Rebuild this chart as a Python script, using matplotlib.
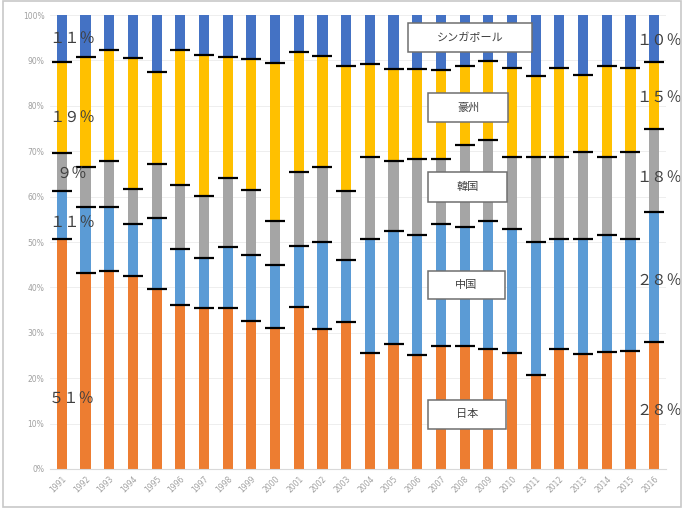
import matplotlib
matplotlib.use("Agg")
import matplotlib.pyplot as plt
import numpy as np
from matplotlib.patches import Rectangle

plt.rcParams['font.family'] = ['Noto Sans CJK JP', 'DejaVu Sans']

years = [str(y) for y in range(1991, 2017)]
japan = [50.6, 43.1, 43.7, 42.6, 39.6, 36.1, 35.5, 35.5, 32.7, 31.1, 35.6, 30.8, 32.4,
         25.5, 27.5, 25.1, 27.2, 27.2, 26.5, 25.6, 20.6, 26.5, 25.3, 25.8, 26.1, 28.0]
china = [10.7, 14.7, 14.1, 11.3, 15.6, 12.4, 10.9, 13.5, 14.5, 13.9, 13.6, 19.2, 13.7,
         25.2, 25.0, 26.5, 26.7, 26.2, 28.2, 27.3, 29.3, 24.2, 25.3, 25.7, 24.5, 28.6]
korea = [8.4, 8.7, 10.1, 7.7, 12.0, 14.1, 13.7, 15.2, 14.3, 9.7, 16.3, 16.5, 15.2,
         18.1, 15.4, 16.7, 14.4, 18.0, 17.8, 15.8, 18.9, 18.0, 19.3, 17.3, 19.3, 18.3]
australia = [20.0, 24.3, 24.5, 28.9, 20.3, 29.6, 31.0, 26.5, 28.8, 34.7, 26.3, 24.5, 27.5,
             20.3, 20.3, 19.9, 19.5, 17.4, 17.3, 19.6, 17.8, 19.6, 16.9, 20.0, 18.5, 14.8]
singapore = [round(100 - j - c - k - a, 1) for j, c, k, a in zip(japan, china, korea, australia)]

series_names = ['日本', '中国', '韓国', '豪州', 'シンガポール']
series = [japan, china, korea, australia, singapore]
colors = ['#ED7D31', '#5B9BD5', '#A5A5A5', '#FFC000', '#4472C4']

left_labels = ['５１％', '１１％', '９％', '１９％', '１１％']
right_labels = ['２８％', '２８％', '１８％', '１５％', '１０％']

W, H = 684, 508
fig = plt.figure(figsize=(W / 100, H / 100), dpi=100)
ax = fig.add_axes([50 / W, 39 / H, 616 / W, 454 / H])

x = np.arange(len(years))
bottom = np.zeros(len(years))
for vals, col in zip(series, colors):
    v = np.array(vals)
    ax.bar(x, v, bottom=bottom, width=0.43, color=col, zorder=2)
    bottom = bottom + v

# boundary dashes
cum = np.zeros(len(years))
for vals in series[:-1]:
    cum = cum + np.array(vals)
    ax.plot(x, cum, linestyle='none', marker='_', markersize=14.5,
            markeredgewidth=1.6, color='black', zorder=4)

ax.set_xlim(-0.5, len(years) - 0.5)
ax.set_ylim(0, 100)
ax.set_yticks(np.arange(0, 101, 10))
ax.set_yticklabels([f'{t}%' for t in range(0, 101, 10)], fontsize=5.5, color='#a0a0a0',
                   family=['DejaVu Sans'])
ax.set_xticks(x)
ax.set_xticklabels(years, rotation=45, ha='right', fontsize=5.5, color='#a0a0a0',
                   family=['DejaVu Sans'], rotation_mode='anchor')
ax.tick_params(length=0, pad=4)
ax.yaxis.grid(True, color='#ebebeb', linewidth=0.6, zorder=0)
ax.set_axisbelow(True)
for s in ['top', 'right', 'left']:
    ax.spines[s].set_visible(False)
ax.spines['bottom'].set_color('#d9d9d9')

# percentage annotations (first and last year)
left_y = [15.4, 54.2, 64.8, 77.3, 94.9]
right_y = [13.0, 41.6, 64.3, 81.7, 94.1]
for lab, yy in zip(left_labels, left_y):
    ax.text(0.43, yy, lab, ha='center', va='center', fontsize=11, color='#404040', zorder=5)
for lab, yy in zip(right_labels, right_y):
    ax.text(24.25, yy, lab, ha='left', va='center', fontsize=11, color='#404040',
            zorder=5, clip_on=False)

# name boxes (pixel positions)
boxes = [('シンガポール', 408, 23, 124, 29), ('豪州', 428, 93, 80, 29), ('韓国', 428, 172, 79, 30),
         ('中国', 428, 271, 77, 28), ('日本', 428, 400, 78, 29)]
for name, bx, by, bw, bh in boxes:
    r = Rectangle((bx / W, 1 - (by + bh) / H), bw / W, bh / H, transform=fig.transFigure,
                  facecolor='white', edgecolor='#6f6f6f', linewidth=1.1, zorder=10)
    fig.patches.append(r)
    fig.text((bx + bw / 2) / W, 1 - (by + bh / 2) / H, name, ha='center', va='center',
             fontsize=8, color='#404040', zorder=11)

# outer frame
fig.patches.append(Rectangle((3 / W, 0.002), 1 - 6 / W, 0.996, transform=fig.transFigure,
                             fill=False, edgecolor='#c8c8c8', linewidth=1.2))

fig.savefig('out.png', dpi=100)
